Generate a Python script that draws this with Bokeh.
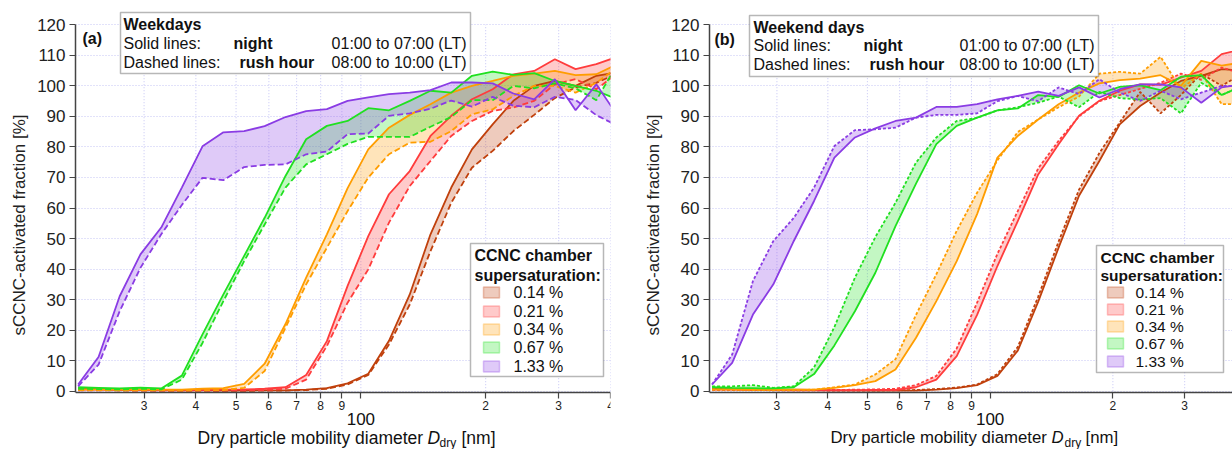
from bokeh.plotting import figure
from bokeh.models import Range1d, FixedTicker, Label, BoxAnnotation
from bokeh.layouts import row
from bokeh.embed import file_html
from bokeh.resources import INLINE

# ---------------- data ----------------
diameter_nm = [20.8, 23.3, 26.2, 29.4, 33.0, 37.0, 41.5, 46.6, 52.3, 58.6, 65.8, 73.8, 82.8,
               92.9, 104.2, 116.9, 131.2, 147.2, 165.2, 185.3, 207.9, 233.3, 261.8, 293.7,
               329.5, 369.7, 414.8]

supersaturation_labels = ["0.14 %", "0.21 %", "0.34 %", "0.67 %", "1.33 %"]

# Weekdays: night (solid) / rush hour (dashed)
wd_014_night = [0.8, 0.7, 0.6, 0.5, 0.4, 0.3, 0.3, 0.2, 0.2, 0.3, 0.3, 0.5, 1.0, 2.6, 5.7, 16.5,
                31.7, 51.4, 66.7, 79.2, 87.4, 95.1, 100.0, 101.6, 100.0, 103.3, 104.4]
wd_014_rush = [0.5, 0.4, 0.3, 0.3, 0.2, 0.2, 0.2, 0.1, 0.1, 0.2, 0.2, 0.4, 0.8, 2.2, 5.3, 15.3,
               28.4, 45.9, 61.7, 73.2, 78.7, 85.2, 90.5, 96.0, 99.5, 101.0, 104.0]
wd_021_night = [0.5, 0.5, 0.4, 0.4, 0.3, 0.3, 0.4, 0.5, 0.6, 0.8, 1.3, 5.3, 16.4, 34.5, 50.8, 64.5,
                72.1, 83.6, 90.2, 95.6, 98.9, 103.8, 104.9, 108.7, 105.5, 107.1, 109.5]
wd_021_rush = [0.3, 0.3, 0.3, 0.2, 0.2, 0.2, 0.2, 0.3, 0.3, 0.4, 0.8, 3.8, 14.8, 29.0, 39.9, 55.2,
               67.2, 75.4, 83.6, 88.5, 91.8, 92.9, 95.1, 100.5, 102.2, 98.9, 104.0]
wd_034_night = [0.6, 0.6, 0.5, 0.5, 0.5, 0.5, 0.8, 1.0, 2.4, 9.0, 22.0, 37.2, 51.4, 66.5, 79.2,
                86.3, 90.5, 94.0, 97.8, 100.0, 101.6, 103.3, 104.0, 104.9, 103.5, 103.8, 107.0]
wd_034_rush = [0.4, 0.4, 0.3, 0.3, 0.3, 0.2, 0.3, 0.4, 1.1, 6.6, 20.8, 35.0, 47.0, 59.0, 70.0,
               77.6, 81.4, 81.7, 85.2, 90.7, 92.3, 96.7, 100.0, 100.0, 97.8, 101.0, 106.0]
wd_067_night = [1.3, 1.1, 0.9, 1.2, 0.9, 5.1, 18.6, 31.7, 44.3, 56.8, 70.5, 82.5, 86.9, 88.5, 92.7,
                92.0, 95.1, 98.4, 97.8, 103.3, 104.7, 103.6, 104.2, 101.6, 100.0, 98.4, 95.6]
wd_067_rush = [0.8, 0.7, 0.6, 0.8, 0.6, 3.8, 15.8, 29.5, 42.6, 54.6, 66.7, 74.3, 77.6, 81.0, 83.3,
               83.3, 83.3, 86.6, 89.8, 95.3, 95.3, 100.0, 99.2, 100.8, 99.2, 95.3, 107.0]
wd_133_night = [2.2, 11.2, 31.1, 44.8, 53.6, 66.7, 80.2, 84.8, 85.2, 86.8, 89.8, 91.7, 92.4, 95.1,
                96.2, 97.3, 97.8, 98.6, 101.1, 101.1, 100.8, 97.5, 95.6, 102.2, 92.0, 100.5, 90.5]
wd_133_rush = [1.6, 8.7, 26.2, 40.4, 51.4, 61.0, 69.9, 69.1, 73.4, 74.1, 74.3, 77.6, 78.5, 84.2,
               84.4, 90.2, 91.0, 92.5, 95.2, 93.2, 96.4, 93.5, 93.0, 96.4, 95.4, 90.4, 87.0]

# Weekend days: night (solid) / rush hour (dashed)
we_014_night = [0.8, 0.7, 0.6, 0.5, 0.5, 0.4, 0.3, 0.3, 0.2, 0.2, 0.2, 0.5, 1.0, 2.0, 5.0, 13.3,
                29.3, 47.0, 64.0, 75.4, 87.4, 93.4, 97.8, 101.6, 103.3, 105.5, 105.0]
we_014_rush = [0.5, 0.4, 0.4, 0.3, 0.3, 0.3, 0.2, 0.2, 0.2, 0.3, 0.4, 0.7, 1.2, 2.2, 5.6, 14.5,
               31.0, 49.0, 66.0, 78.0, 88.0, 98.0, 91.0, 97.0, 104.0, 100.0, 104.0]
we_021_night = [0.5, 0.5, 0.4, 0.4, 0.3, 0.3, 0.3, 0.3, 0.4, 0.4, 1.3, 3.8, 11.5, 25.0, 41.0, 55.7,
                71.0, 80.9, 90.2, 95.1, 98.4, 100.5, 100.3, 102.7, 104.9, 110.4, 112.0]
we_021_rush = [0.6, 0.6, 0.5, 0.5, 0.4, 0.4, 0.4, 0.5, 0.6, 0.8, 2.0, 5.0, 14.0, 29.0, 45.0, 59.0,
               73.0, 82.0, 90.0, 95.0, 97.0, 99.0, 101.0, 104.0, 102.0, 106.0, 104.0]
we_034_night = [0.6, 0.6, 0.5, 0.5, 0.5, 0.5, 1.1, 2.0, 3.3, 7.1, 17.5, 29.5, 42.6, 58.0, 76.5,
                83.6, 89.0, 94.0, 97.8, 100.8, 101.9, 102.4, 103.5, 100.0, 108.2, 106.6, 107.7]
we_034_rush = [0.5, 0.5, 0.4, 0.4, 0.4, 0.5, 1.3, 2.2, 5.5, 10.5, 25.0, 38.3, 52.5, 65.0, 75.6,
               84.9, 89.0, 93.0, 96.5, 104.0, 104.6, 104.0, 109.5, 99.0, 104.0, 94.0, 94.0]
we_067_night = [1.3, 1.1, 1.0, 0.9, 1.3, 5.6, 15.0, 26.2, 38.8, 54.1, 68.0, 80.9, 86.9, 89.6, 92.0,
                92.6, 97.0, 96.4, 100.2, 97.5, 99.7, 100.2, 98.6, 103.0, 103.5, 97.0, 100.0]
we_067_rush = [1.6, 1.6, 2.0, 1.1, 1.6, 7.8, 21.0, 37.2, 50.5, 61.7, 74.9, 83.1, 88.5, 89.5, 92.0,
               93.0, 94.5, 96.5, 93.0, 98.0, 96.0, 95.5, 96.0, 91.0, 101.0, 97.0, 100.0]
we_133_night = [2.2, 9.3, 25.1, 35.0, 49.2, 62.3, 76.5, 83.1, 86.1, 88.5, 89.6, 93.1, 93.1, 94.0,
                95.6, 96.7, 98.1, 96.7, 99.5, 96.2, 98.9, 100.5, 100.5, 99.5, 94.5, 99.5, 100.5]
we_133_rush = [2.2, 12.0, 36.1, 49.2, 56.8, 66.7, 80.3, 85.5, 85.8, 86.3, 89.6, 90.5, 90.5, 91.0,
               95.0, 96.7, 95.0, 99.5, 97.3, 102.2, 97.8, 95.1, 98.4, 95.6, 97.8, 100.0, 100.0]

x_ticks = [30, 40, 50, 60, 70, 80, 90, 100, 200, 300, 400]
x_tick_labels = {30: "3", 40: "4", 50: "5", 60: "6", 70: "7", 80: "8", 90: "9",
                 100: "", 200: "2", 300: "3", 400: "4"}
y_ticks = [0, 10, 20, 30, 40, 50, 60, 70, 80, 90, 100, 110, 120]

# ---------------- styles / layout ----------------
COLORS = ["#c0400c", "#ff3c3c", "#ff9d00", "#20e020", "#8a3ce4"]
FONT = "Liberation Sans"
TXT = "#111111"
GRID = "#c4c4f4"
H = 449
Y_MIN, Y_MAX = -19.09, 127.96   # frame spans whole figure height; 0 -> 390.7 px, 120 -> 24.3 px


def make_panel(series, width, x_end, bl, br, dash, L):
    p = figure(width=width, height=H, x_axis_type="log",
               x_range=Range1d(20.5, x_end), y_range=Range1d(Y_MIN, Y_MAX),
               output_backend="svg", toolbar_location=None,
               min_border_left=bl, min_border_right=br,
               min_border_top=0, min_border_bottom=0)
    p.outline_line_color = None
    p.background_fill_color = "white"
    p.border_fill_color = "white"

    def sx(x):
        return x - bl

    def sy(y):
        return H - y

    # axes
    p.xaxis.fixed_location = -0.4
    p.xaxis.ticker = FixedTicker(ticks=x_ticks, minor_ticks=[])
    p.xaxis.major_label_overrides = x_tick_labels
    p.yaxis.ticker = FixedTicker(ticks=y_ticks, minor_ticks=[])
    p.yaxis.bounds = (-0.4, 120)
    for ax in (p.xaxis[0], p.yaxis[0]):
        ax.axis_line_color = "#444444"
        ax.axis_line_width = 1.5
        ax.major_tick_line_color = "#444444"
        ax.major_tick_line_width = 1.2
        ax.major_tick_in = 0
        ax.major_tick_out = 6
        ax.minor_tick_line_color = None
        ax.major_label_text_font = FONT
        ax.major_label_text_color = "#222222"
    p.xaxis.major_label_text_font_size = "12px"
    p.xaxis.major_label_standoff = 3
    p.yaxis.major_label_text_font_size = "17px"
    p.yaxis.major_label_standoff = 4
    p.yaxis.axis_label = "sCCNC-activated fraction [%]"
    p.yaxis.axis_label_text_font = FONT
    p.yaxis.axis_label_text_font_size = "17px"
    p.yaxis.axis_label_text_font_style = "normal"
    p.yaxis.axis_label_text_color = "#222222"

    # grid: horizontal lines from the y grid, vertical lines limited to 0..120
    p.xgrid.visible = False
    p.ygrid.ticker = FixedTicker(ticks=y_ticks)
    p.ygrid.grid_line_color = GRID
    p.ygrid.grid_line_dash = "1 2"
    p.ygrid.grid_line_width = 1
    n = len(x_ticks)
    p.segment(x0=x_ticks, y0=[y_ticks[0]] * n, x1=x_ticks, y1=[y_ticks[-1]] * n,
              line_color=GRID, line_dash="1 2", line_width=1, level="underlay")

    # bands, then lines
    for (night, rush), c in zip(series, COLORS):
        p.varea(x=diameter_nm, y1=night, y2=rush, fill_color=c, fill_alpha=0.27)
    for (night, rush), c in zip(series, COLORS):
        p.line(diameter_nm, night, line_color=c, line_width=1.8)
        p.line(diameter_nm, rush, line_color=c, line_width=1.8, line_dash=dash)

    def lab(text, x, y, bold=False, align="left", size="16px", italic=False,
            data_x=False):
        style = "bold" if bold else ("italic" if italic else "normal")
        p.add_layout(Label(x=x if data_x else sx(x), y=sy(y),
                           x_units="data" if data_x else "screen", y_units="screen",
                           text=text, text_font=FONT, text_font_size=size,
                           text_font_style=style, text_color=TXT,
                           text_align=align, text_baseline="middle"))

    def box(l, r, t, b, fill="white", alpha=1.0, line="#111111", lw=1.5):
        p.add_layout(BoxAnnotation(left=sx(l), right=sx(r), top=sy(t), bottom=sy(b),
                                   left_units="screen", right_units="screen",
                                   top_units="screen", bottom_units="screen",
                                   fill_color=fill, fill_alpha=alpha,
                                   line_color=line, line_width=lw))

    # legend (manual)
    box(*L["legend_box"])
    lab("CCNC chamber", L["leg_title_x"], L["leg_title_y"][0], bold=True, size=L["leg_size"])
    lab("supersaturation:", L["leg_title_x"], L["leg_title_y"][1], bold=True, size=L["leg_size"])
    for lab_txt, c, ry in zip(supersaturation_labels, COLORS, L["leg_rows"]):
        box(L["sw_x"], L["sw_x"] + 16, ry - 5.5, ry + 5.5, fill=c, alpha=0.27, line=c, lw=1.5)
        lab(lab_txt, L["leg_text_x"], ry, size=L["leg_size"])

    # top text box
    box(*L["box"])
    tx, tnight, trush, tright, y1, y2, y3 = L["pos"]
    lab(L["title"], tx, y1, bold=True)
    lab("Solid lines:", tx, y2)
    lab("Dashed lines:", tx, y3)
    lab("night", tnight, y2, bold=True)
    lab("rush hour", trush, y3, bold=True)
    lab("01:00 to 07:00 (LT)", tright, y2, align="right")
    lab("08:00 to 10:00 (LT)", tright, y3, align="right")
    lab(L["letter"], L["letter_pos"][0], L["letter_pos"][1], bold=True)

    # x-axis: "100" and axis title
    lab("100", 100, 418, size="17px", align="center", data_x=True)
    x0, xd, xs, xn = L["xlab"]
    fs = L["xlab_size"]
    lab("Dry particle mobility diameter", x0, 437, size=fs)
    lab("D", xd, 437, size=fs, italic=True)
    lab("dry", xs, 442, size="12px")
    lab("[nm]", xn, 437, size=fs)
    return p


weekday_series = [(wd_014_night, wd_014_rush), (wd_021_night, wd_021_rush),
                  (wd_034_night, wd_034_rush), (wd_067_night, wd_067_rush),
                  (wd_133_night, wd_133_rush)]
weekend_series = [(we_014_night, we_014_rush), (we_021_night, we_021_rush),
                  (we_034_night, we_034_rush), (we_067_night, we_067_rush),
                  (we_133_night, we_133_rush)]

p1 = make_panel(weekday_series, 640, 400, 75, 30, "6 3", {
    "title": "Weekdays", "letter": "(a)", "letter_pos": (82, 38),
    "box": (120, 470, 12, 73), "pos": (123, 233, 239, 466, 24, 43, 62),
    "legend_box": (470, 603, 243, 376), "leg_title_x": 474, "leg_title_y": (255, 275),
    "leg_rows": (292, 311, 329, 347, 366), "sw_x": 483, "leg_text_x": 513,
    "leg_size": "16px", "xlab": (197, 427, 439, 461), "xlab_size": "17.5px"})
p2 = make_panel(weekend_series, 592, 393, 69, 0, "3 2", {
    "title": "Weekend days", "letter": "(b)", "letter_pos": (74, 39),
    "box": (109, 458, 15, 76), "pos": (113, 223, 229, 454, 27, 45, 64),
    "legend_box": (456, 583, 245, 372), "leg_title_x": 460, "leg_title_y": (257, 275),
    "leg_rows": (292, 309, 326, 343, 361), "sw_x": 467, "leg_text_x": 495,
    "leg_size": "15.5px", "xlab": (190, 411, 424, 445), "xlab_size": "16.8px"})

layout = row(p1, p2)
open("out.html", "w").write(file_html(layout, INLINE))
